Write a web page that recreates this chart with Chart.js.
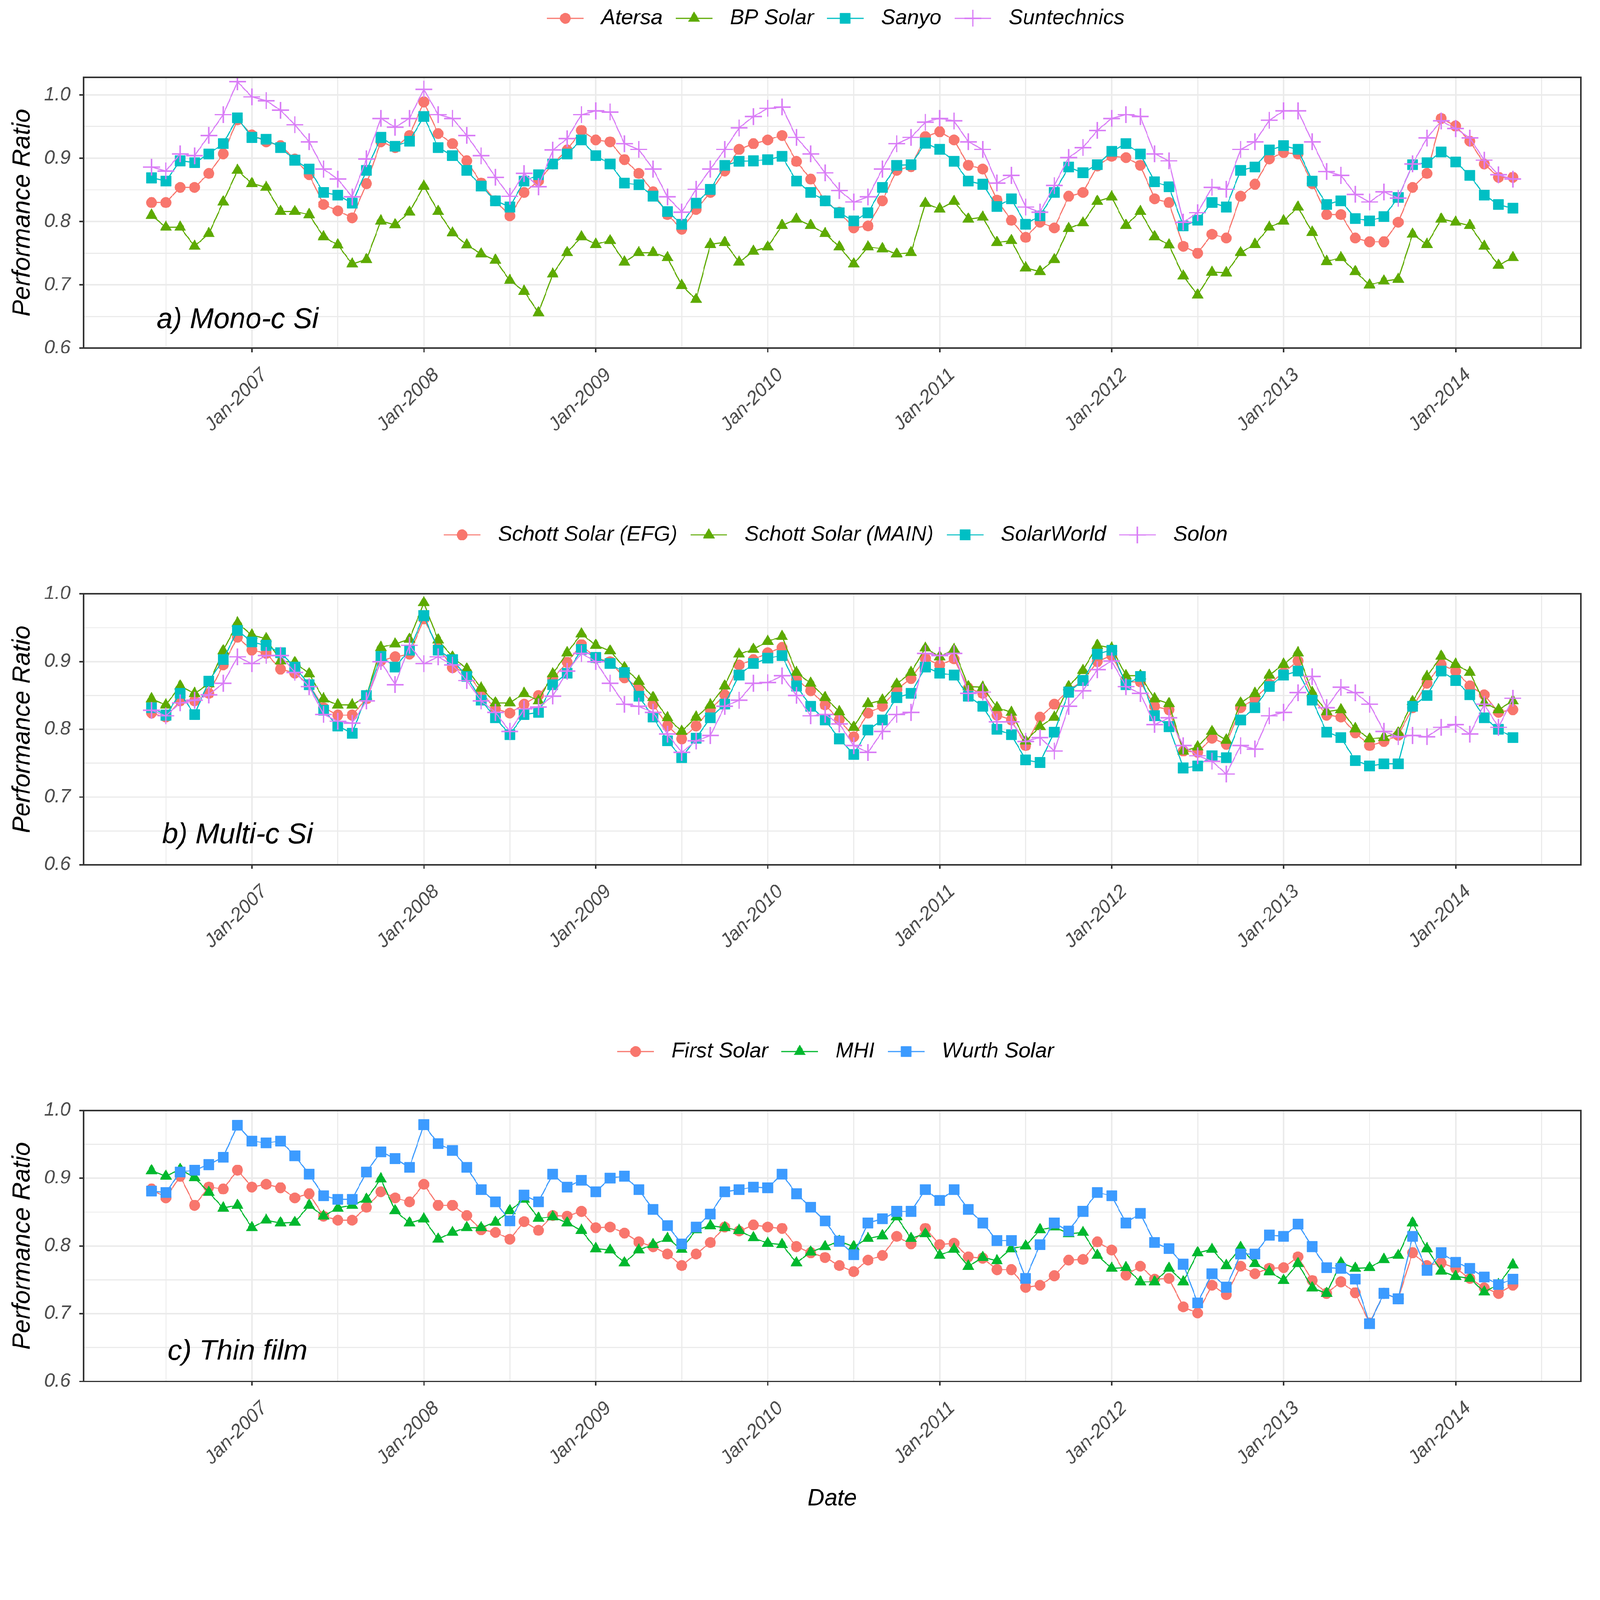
<!DOCTYPE html>
<html>
<head>
<meta charset="utf-8">
<script src="https://cdn.jsdelivr.net/npm/chart.js@4.4.1/dist/chart.umd.min.js"></script>
<style>
  html, body { margin: 0; padding: 0; background: #fff; overflow: hidden; }
  #page { position: relative; width: 4370px; height: 4145px; background: #fff; transform-origin: 0 0; }
  .panel { position: absolute; left: 0; width: 4370px; }
</style>
</head>
<body>
<div id="page">
  <div class="panel" style="top:0px;height:1411px"><canvas id="graph_mono" width="4370" height="1411"></canvas></div>
  <div class="panel" style="top:1411px;height:1411px"><canvas id="graph_multi" width="4370" height="1411"></canvas></div>
  <div class="panel" style="top:2822px;height:1323px"><canvas id="graph_thin" width="4370" height="1323"></canvas></div>
</div>
<script>
// monthly points, index 0 = Jun-2006 ... 95 = May-2014
const janTicks = [7, 19, 31, 43, 55, 67, 79, 91]
const janLabels = ['Jan-2007', 'Jan-2008', 'Jan-2009', 'Jan-2010', 'Jan-2011', 'Jan-2012', 'Jan-2013', 'Jan-2014']
const julTicks = [1, 13, 25, 37, 49, 61, 73, 85, 97]
const yTicks = [0.6, 0.65, 0.7, 0.75, 0.8, 0.85, 0.9, 0.95, 1.0]

// a) Mono-c Si
const atersa = [0.830, 0.830, 0.854, 0.854, 0.876, 0.907, 0.961, 0.937, 0.926, 0.920, 0.899, 0.874,
  0.827, 0.817, 0.806, 0.860, 0.926, 0.917, 0.936, 0.989, 0.939, 0.923, 0.896, 0.861,
  0.833, 0.809, 0.846, 0.864, 0.891, 0.913, 0.944, 0.929, 0.926, 0.898, 0.876, 0.847,
  0.811, 0.788, 0.819, 0.846, 0.880, 0.914, 0.923, 0.929, 0.936, 0.895, 0.867, 0.833,
  0.815, 0.790, 0.793, 0.833, 0.881, 0.887, 0.934, 0.942, 0.929, 0.889, 0.883, 0.834,
  0.802, 0.775, 0.799, 0.790, 0.840, 0.846, 0.888, 0.903, 0.901, 0.889, 0.836, 0.830,
  0.761, 0.750, 0.780, 0.774, 0.840, 0.859, 0.899, 0.909, 0.907, 0.860, 0.811, 0.811,
  0.774, 0.768, 0.768, 0.799, 0.854, 0.876, 0.963, 0.951, 0.927, 0.891, 0.870, 0.870]
const bpSolar = [0.810, 0.791, 0.791, 0.761, 0.781, 0.831, 0.881, 0.860, 0.854, 0.816, 0.816, 0.811,
  0.776, 0.763, 0.733, 0.740, 0.801, 0.795, 0.815, 0.856, 0.816, 0.782, 0.763, 0.749,
  0.739, 0.707, 0.690, 0.656, 0.717, 0.751, 0.776, 0.764, 0.770, 0.736, 0.751, 0.751,
  0.743, 0.699, 0.677, 0.764, 0.767, 0.736, 0.753, 0.760, 0.794, 0.804, 0.794, 0.781,
  0.760, 0.733, 0.760, 0.757, 0.749, 0.751, 0.829, 0.820, 0.832, 0.804, 0.807, 0.767,
  0.770, 0.727, 0.721, 0.740, 0.789, 0.798, 0.832, 0.839, 0.794, 0.816, 0.776, 0.763,
  0.714, 0.684, 0.720, 0.719, 0.751, 0.764, 0.791, 0.801, 0.823, 0.783, 0.737, 0.743,
  0.721, 0.700, 0.706, 0.709, 0.780, 0.764, 0.804, 0.799, 0.794, 0.761, 0.731, 0.743]
const sanyo = [0.869, 0.864, 0.896, 0.893, 0.907, 0.923, 0.964, 0.933, 0.930, 0.917, 0.897, 0.883,
  0.846, 0.842, 0.829, 0.881, 0.933, 0.919, 0.927, 0.966, 0.917, 0.904, 0.881, 0.856,
  0.833, 0.823, 0.864, 0.874, 0.891, 0.907, 0.929, 0.904, 0.891, 0.861, 0.858, 0.840,
  0.816, 0.796, 0.829, 0.851, 0.889, 0.895, 0.896, 0.898, 0.903, 0.864, 0.846, 0.833,
  0.814, 0.801, 0.814, 0.854, 0.889, 0.890, 0.924, 0.914, 0.895, 0.864, 0.859, 0.824,
  0.836, 0.796, 0.809, 0.846, 0.886, 0.877, 0.890, 0.911, 0.923, 0.907, 0.863, 0.855,
  0.793, 0.802, 0.830, 0.823, 0.881, 0.886, 0.913, 0.920, 0.914, 0.864, 0.827, 0.833,
  0.805, 0.801, 0.808, 0.838, 0.890, 0.893, 0.910, 0.894, 0.873, 0.842, 0.827, 0.821]
const suntechnics = [0.886, 0.880, 0.907, 0.904, 0.936, 0.969, 1.021, 0.997, 0.991, 0.976, 0.953, 0.926,
  0.883, 0.867, 0.839, 0.899, 0.963, 0.949, 0.963, 1.009, 0.969, 0.963, 0.936, 0.904,
  0.870, 0.840, 0.876, 0.855, 0.913, 0.931, 0.969, 0.975, 0.973, 0.923, 0.914, 0.883,
  0.839, 0.815, 0.851, 0.883, 0.914, 0.948, 0.966, 0.979, 0.981, 0.933, 0.907, 0.877,
  0.849, 0.831, 0.839, 0.883, 0.923, 0.933, 0.957, 0.963, 0.959, 0.926, 0.914, 0.861,
  0.873, 0.823, 0.815, 0.857, 0.901, 0.917, 0.944, 0.963, 0.969, 0.966, 0.907, 0.896,
  0.799, 0.814, 0.854, 0.851, 0.914, 0.926, 0.960, 0.975, 0.975, 0.926, 0.879, 0.873,
  0.843, 0.831, 0.847, 0.837, 0.891, 0.932, 0.959, 0.947, 0.932, 0.897, 0.874, 0.867]

// b) Multi-c Si
const schottEFG = [0.824, 0.818, 0.842, 0.842, 0.853, 0.895, 0.936, 0.917, 0.912, 0.889, 0.883, 0.866,
  0.832, 0.821, 0.821, 0.845, 0.901, 0.907, 0.911, 0.963, 0.921, 0.891, 0.884, 0.855,
  0.830, 0.824, 0.837, 0.850, 0.875, 0.899, 0.925, 0.905, 0.900, 0.876, 0.861, 0.837,
  0.805, 0.786, 0.805, 0.829, 0.851, 0.895, 0.903, 0.913, 0.921, 0.874, 0.857, 0.836,
  0.814, 0.789, 0.824, 0.834, 0.859, 0.875, 0.905, 0.895, 0.904, 0.861, 0.853, 0.821,
  0.814, 0.776, 0.818, 0.837, 0.858, 0.872, 0.900, 0.909, 0.870, 0.870, 0.834, 0.829,
  0.768, 0.766, 0.787, 0.778, 0.832, 0.845, 0.867, 0.884, 0.901, 0.847, 0.821, 0.818,
  0.795, 0.776, 0.782, 0.791, 0.832, 0.868, 0.896, 0.886, 0.864, 0.851, 0.825, 0.829]
const schottMAIN = [0.845, 0.836, 0.864, 0.853, 0.867, 0.916, 0.957, 0.939, 0.934, 0.901, 0.899, 0.882,
  0.845, 0.836, 0.836, 0.849, 0.921, 0.926, 0.933, 0.987, 0.932, 0.907, 0.889, 0.861,
  0.839, 0.839, 0.853, 0.842, 0.882, 0.913, 0.941, 0.924, 0.916, 0.891, 0.871, 0.847,
  0.817, 0.797, 0.818, 0.836, 0.864, 0.911, 0.918, 0.930, 0.937, 0.884, 0.868, 0.847,
  0.826, 0.803, 0.838, 0.843, 0.867, 0.884, 0.920, 0.907, 0.918, 0.863, 0.862, 0.832,
  0.825, 0.783, 0.804, 0.818, 0.863, 0.887, 0.924, 0.920, 0.879, 0.879, 0.845, 0.838,
  0.768, 0.774, 0.797, 0.784, 0.839, 0.853, 0.880, 0.896, 0.913, 0.854, 0.826, 0.829,
  0.801, 0.786, 0.788, 0.795, 0.841, 0.878, 0.908, 0.896, 0.884, 0.839, 0.829, 0.842]
const solarWorld = [0.832, 0.821, 0.853, 0.822, 0.871, 0.903, 0.946, 0.929, 0.924, 0.913, 0.892, 0.866,
  0.828, 0.805, 0.794, 0.850, 0.908, 0.892, 0.917, 0.968, 0.917, 0.903, 0.878, 0.843,
  0.817, 0.792, 0.822, 0.825, 0.866, 0.883, 0.918, 0.906, 0.897, 0.884, 0.849, 0.818,
  0.783, 0.758, 0.787, 0.817, 0.837, 0.880, 0.897, 0.905, 0.909, 0.864, 0.834, 0.814,
  0.786, 0.763, 0.799, 0.814, 0.847, 0.853, 0.892, 0.883, 0.880, 0.849, 0.834, 0.800,
  0.792, 0.755, 0.751, 0.796, 0.855, 0.872, 0.911, 0.917, 0.866, 0.878, 0.820, 0.804,
  0.743, 0.746, 0.761, 0.758, 0.814, 0.832, 0.863, 0.880, 0.886, 0.843, 0.796, 0.788,
  0.754, 0.746, 0.749, 0.749, 0.834, 0.850, 0.886, 0.872, 0.851, 0.817, 0.800, 0.788]
const solon = [0.828, 0.820, 0.839, 0.843, 0.851, 0.868, 0.907, 0.897, 0.909, 0.909, 0.884, 0.863,
  0.822, 0.812, 0.809, 0.842, 0.900, 0.866, 0.924, 0.897, 0.907, 0.895, 0.872, 0.842,
  0.825, 0.797, 0.830, 0.833, 0.849, 0.886, 0.912, 0.900, 0.868, 0.837, 0.834, 0.825,
  0.793, 0.766, 0.783, 0.791, 0.834, 0.843, 0.868, 0.869, 0.879, 0.850, 0.820, 0.822,
  0.808, 0.776, 0.766, 0.797, 0.822, 0.825, 0.912, 0.909, 0.912, 0.853, 0.855, 0.811,
  0.811, 0.782, 0.788, 0.768, 0.834, 0.857, 0.888, 0.901, 0.863, 0.853, 0.807, 0.817,
  0.776, 0.761, 0.753, 0.734, 0.776, 0.771, 0.820, 0.825, 0.854, 0.878, 0.832, 0.862,
  0.854, 0.837, 0.797, 0.789, 0.791, 0.789, 0.803, 0.807, 0.793, 0.837, 0.803, 0.846]

// c) Thin film
const firstSolar = [0.884, 0.871, 0.903, 0.860, 0.887, 0.884, 0.912, 0.887, 0.891, 0.886, 0.871, 0.877,
  0.844, 0.838, 0.838, 0.857, 0.880, 0.871, 0.865, 0.891, 0.860, 0.860, 0.845, 0.824,
  0.820, 0.810, 0.836, 0.823, 0.845, 0.844, 0.851, 0.827, 0.828, 0.819, 0.806, 0.799,
  0.788, 0.771, 0.788, 0.805, 0.828, 0.822, 0.831, 0.828, 0.826, 0.799, 0.790, 0.783,
  0.771, 0.762, 0.779, 0.786, 0.814, 0.803, 0.826, 0.802, 0.804, 0.784, 0.782, 0.765,
  0.765, 0.739, 0.742, 0.756, 0.779, 0.780, 0.806, 0.794, 0.757, 0.770, 0.751, 0.752,
  0.710, 0.701, 0.742, 0.728, 0.770, 0.759, 0.767, 0.768, 0.784, 0.749, 0.730, 0.747,
  0.731, 0.686, 0.730, 0.722, 0.790, 0.771, 0.775, 0.767, 0.752, 0.738, 0.730, 0.742]
const mhi = [0.911, 0.903, 0.913, 0.901, 0.879, 0.856, 0.860, 0.827, 0.838, 0.834, 0.835, 0.860,
  0.844, 0.856, 0.860, 0.869, 0.899, 0.852, 0.834, 0.840, 0.810, 0.820, 0.827, 0.827,
  0.835, 0.852, 0.869, 0.841, 0.843, 0.834, 0.823, 0.796, 0.794, 0.775, 0.794, 0.802,
  0.811, 0.795, 0.824, 0.830, 0.827, 0.823, 0.812, 0.804, 0.802, 0.775, 0.791, 0.799,
  0.807, 0.799, 0.811, 0.815, 0.843, 0.811, 0.818, 0.786, 0.795, 0.770, 0.783, 0.778,
  0.796, 0.800, 0.824, 0.828, 0.818, 0.820, 0.786, 0.767, 0.768, 0.747, 0.747, 0.767,
  0.747, 0.790, 0.795, 0.771, 0.798, 0.774, 0.762, 0.749, 0.774, 0.738, 0.730, 0.775,
  0.767, 0.768, 0.780, 0.786, 0.834, 0.796, 0.763, 0.755, 0.752, 0.732, 0.743, 0.772]
const wurthSolar = [0.881, 0.879, 0.909, 0.912, 0.920, 0.931, 0.978, 0.955, 0.952, 0.955, 0.933, 0.906,
  0.874, 0.869, 0.869, 0.909, 0.939, 0.929, 0.916, 0.979, 0.951, 0.941, 0.916, 0.883,
  0.865, 0.837, 0.875, 0.865, 0.906, 0.887, 0.897, 0.880, 0.900, 0.903, 0.883, 0.854,
  0.830, 0.803, 0.828, 0.847, 0.880, 0.883, 0.887, 0.886, 0.906, 0.877, 0.857, 0.837,
  0.807, 0.787, 0.834, 0.840, 0.851, 0.851, 0.883, 0.867, 0.883, 0.854, 0.834, 0.808,
  0.808, 0.752, 0.802, 0.834, 0.822, 0.851, 0.879, 0.874, 0.834, 0.848, 0.805, 0.796,
  0.773, 0.716, 0.759, 0.739, 0.788, 0.788, 0.816, 0.814, 0.832, 0.799, 0.768, 0.767,
  0.751, 0.685, 0.730, 0.722, 0.814, 0.764, 0.790, 0.776, 0.767, 0.754, 0.743, 0.751]

const hue4 = ['#F8766D', '#5DAA00', '#00BFC4', '#D97DF6']
const hue3 = ['#F8766D', '#00B82E', '#3C9BFF']
const shapes4 = ['circle', 'triangle', 'rect', 'cross']
const shapes3 = ['circle', 'triangle', 'rect']
const markerRadius = { circle: 14.5, triangle: 18, rect: 20, cross: 23 }

// the picture is taken of a 4370x4145 window; shrink the page if the viewport is smaller
var fitScale = Math.min(window.innerWidth / 4370, window.innerHeight / 4145)
if (fitScale > 0 && fitScale < 0.999) document.getElementById('page').style.transform = 'scale(' + fitScale + ')'

Chart.defaults.font.family = "'Liberation Sans', Arial, sans-serif"
Chart.defaults.font.style = 'italic'

function isMajorY(v) { return Math.abs(v * 10 - Math.round(v * 10)) < 1e-6 }

//legend key = short line with the marker in the middle (like ggplot)
function keyImage(color, shape) {
  var c = document.createElement('canvas')
  c.width = 100; c.height = 58
  var g = c.getContext('2d')
  g.strokeStyle = color; g.fillStyle = color
  g.lineWidth = 3
  g.beginPath(); g.moveTo(0, 29); g.lineTo(100, 29); g.stroke()
  var bw = shape == 'cross' ? 4 : 1
  g.lineWidth = bw
  Chart.helpers.drawPoint(g, { pointStyle: shape, radius: markerRadius[shape], rotation: 0, borderWidth: bw }, 50, 29)
  return c
}

const panelBorder = {
  id: 'panelBorder',
  afterDraw(chart) {
    const a = chart.chartArea, ctx = chart.ctx
    ctx.save()
    ctx.strokeStyle = '#333333'
    ctx.lineWidth = 4
    ctx.strokeRect(a.left, a.top, a.right - a.left, a.bottom - a.top)
    ctx.restore()
  }
}

const legendOverPanel = {//center the legend on the panel, not on the canvas
  id: 'legendOverPanel',
  beforeDraw(chart) {
    const lg = chart.legend, a = chart.chartArea
    if (!lg) return
    lg.left = a.left; lg.right = a.right; lg.width = a.right - a.left
  }
}

const panelLabel = {
  id: 'panelLabel',
  afterDatasetsDraw(chart, args, opts) {
    const ctx = chart.ctx, x = chart.scales.x, y = chart.scales.y
    ctx.save()
    ctx.font = "italic 78px 'Liberation Sans', Arial, sans-serif"
    ctx.fillStyle = '#000000'
    ctx.textAlign = 'center'
    ctx.textBaseline = 'alphabetic'
    ctx.fillText(opts.text, x.getPixelForValue(opts.x), y.getPixelForValue(opts.y))
    ctx.restore()
  }
}

function makePanel(canvasId, names, series, colors, shapes, label, yMax, showDate) {
  const n = names.length
  const keys = names.map((nm, i) => keyImage(colors[i], shapes[i]))
  const datasets = names.map((nm, i) => ({
    label: nm,
    data: series[i].map((v, m) => ({ x: m, y: v })),
    borderColor: colors[i],
    backgroundColor: colors[i],
    borderWidth: 3,
    pointStyle: shapes[i],
    pointRadius: markerRadius[shapes[i]],
    pointBorderWidth: shapes[i] == 'cross' ? 4 : 1,
    pointBackgroundColor: colors[i],
    pointBorderColor: colors[i],
    tension: 0,
    order: n - i
  }))
  const canvas = document.getElementById(canvasId)
  const xh = showDate ? canvas.height - 951 : 300
  const padBottom = showDate ? 0 : canvas.height - 951 - xh

  return new Chart(canvas, {
    type: 'line',
    data: { datasets: datasets },
    plugins: [panelBorder, legendOverPanel, panelLabel],
    options: {
      responsive: false,
      animation: false,
      devicePixelRatio: 1,
      layout: { padding: { top: 4, left: 0, right: 52, bottom: padBottom } },
      plugins: {
        legend: {
          position: 'top',
          onClick: null,
          labels: {
            usePointStyle: true,
            pointStyleWidth: 138,
            padding: 17,
            color: '#000000',
            font: { size: 58 },
            sort: (a, b) => a.datasetIndex - b.datasetIndex,
            generateLabels: chart => chart.data.datasets.map((ds, i) => ({
              text: ds.label, datasetIndex: i, pointStyle: keys[i], rotation: 0,
              fillStyle: ds.borderColor, strokeStyle: ds.borderColor, lineWidth: 0, hidden: false
            }))
          }
        },
        subtitle: { display: true, text: '', weight: 100, font: { size: 10, lineHeight: 1 }, padding: { top: 0, bottom: 112 } },
        tooltip: { enabled: false },
        panelLabel: { text: label, x: 6, y: 0.632 }
      },
      scales: {
        x: {
          type: 'linear',
          min: -4.75,
          max: 99.75,
          afterBuildTicks: axis => { axis.ticks = julTicks.concat(janTicks).sort((a, b) => a - b).map(v => ({ value: v })) },
          afterFit: axis => { axis.height = xh },
          ticks: {
            autoSkip: false, minRotation: 45, maxRotation: 45, padding: 32, labelOffset: 34,
            color: '#4D4D4D', font: { size: 52 },
            callback: v => { var k = janTicks.indexOf(v); return k >= 0 ? janLabels[k] : '' }
          },
          grid: {
            color: '#EBEBEB',
            lineWidth: c => (c.tick && janTicks.indexOf(c.tick.value) >= 0) ? 4 : 3,
            tickLength: 11,
            tickWidth: 4,
            tickColor: c => (c.tick && janTicks.indexOf(c.tick.value) >= 0) ? '#333333' : 'rgba(0,0,0,0)'
          },
          border: { display: false },
          title: { display: showDate, text: 'Date', color: '#000000', font: { size: 64 }, padding: { top: 0, bottom: 12 } }
        },
        y: {
          min: 0.6,
          max: yMax,
          afterBuildTicks: axis => { axis.ticks = yTicks.map(v => ({ value: v })) },
          afterFit: axis => { axis.width = 228 },
          ticks: {
            padding: 24, color: '#4D4D4D', font: { size: 52 },
            callback: v => isMajorY(v) ? v.toFixed(1) : ''
          },
          grid: {
            color: '#EBEBEB',
            lineWidth: c => (c.tick && isMajorY(c.tick.value)) ? 4 : 3,
            tickLength: 11,
            tickWidth: 4,
            tickColor: c => (c.tick && isMajorY(c.tick.value)) ? '#333333' : 'rgba(0,0,0,0)'
          },
          border: { display: false },
          title: { display: true, text: 'Performance Ratio', color: '#000000', font: { size: 68 }, padding: { top: 21, bottom: 0 } }
        }
      }
    }
  })
}

makePanel('graph_mono', ['Atersa', 'BP Solar', 'Sanyo', 'Suntechnics'],
  [atersa, bpSolar, sanyo, suntechnics], hue4, shapes4, 'a) Mono-c Si', 1.028, false)
makePanel('graph_multi', ['Schott Solar (EFG)', 'Schott Solar (MAIN)', 'SolarWorld', 'Solon'],
  [schottEFG, schottMAIN, solarWorld, solon], hue4, shapes4, 'b) Multi-c Si', 1.0, false)
makePanel('graph_thin', ['First Solar', 'MHI', 'Wurth Solar'],
  [firstSolar, mhi, wurthSolar], hue3, shapes3, 'c) Thin film', 1.0, true)
</script>
</body>
</html>
